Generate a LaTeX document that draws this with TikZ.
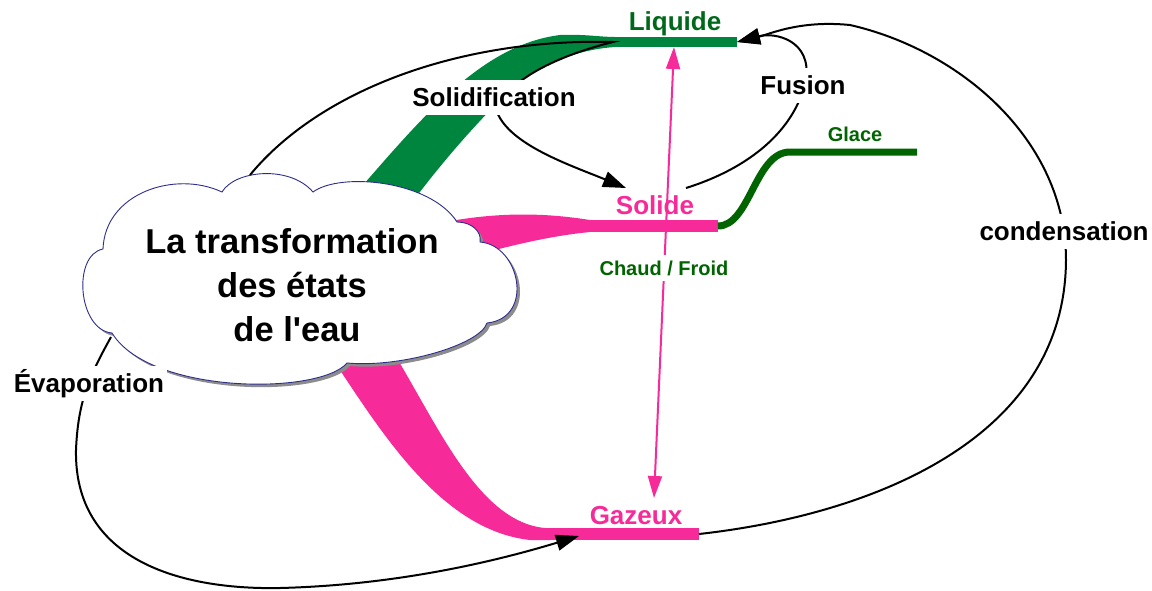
\documentclass[tikz,border=0pt]{standalone}
\usepackage{fontspec}
\setmainfont{Liberation Sans}
\newfontfamily\plainsans{Liberation Sans}
\usetikzlibrary{arrows.meta}
\definecolor{pinkc}{RGB}{246,42,152}
\definecolor{bandgreen}{RGB}{0,133,62}
\definecolor{darkg}{RGB}{0,100,0}
\definecolor{txtgreen}{RGB}{0,105,25}
\definecolor{cloudline}{RGB}{45,45,140}
\def\cloudpath{(103,249) .. controls (105,193) and (175,170) .. (222,192) .. controls (235,170) and (290,165) .. (313,192) .. controls (340,172) and (430,180) .. (457,222) .. controls (472,222) and (482,232) .. (480,242) .. controls (520,245) and (535,318) .. (487,323) .. controls (480,345) and (400,368) .. (347,363) .. controls (320,395) and (150,395) .. (112,333) .. controls (78,330) and (72,255) .. (103,249) -- cycle}
\begin{document}
\begin{tikzpicture}[x=1pt,y=-1pt,
  conn/.style={line width=2pt, black, -{Triangle[length=23pt,width=16pt]}},
  lbl/.style={font=\fontsize{26}{30}\selectfont\bfseries, fill=white, inner xsep=3pt, inner ysep=8pt, text height=19pt, text depth=0pt},
  statetxt/.style={font=\fontsize{26}{30}\selectfont\bfseries, inner sep=0pt, text height=19pt, text depth=0pt},
  smalltxt/.style={font=\fontsize{20}{24}\selectfont\bfseries, text=darkg, inner xsep=3pt, inner ysep=6pt, text height=14.5pt, text depth=0pt},
  bar/.style={line width=#1, line cap=butt}
]
\useasboundingbox (0,0) rectangle (1152,590);
% anchor points
\coordinate (liqL) at (613,42);
\coordinate (liqR) at (737,42);
\coordinate (solL) at (585,226);
\coordinate (solR) at (718,226);
\coordinate (gazL) at (545,534);
\coordinate (gazR) at (699,534);
\coordinate (glaK) at (790,152);
\coordinate (glaR) at (917,152);
\coordinate (cloudTop) at (250,175);
\coordinate (cloudBL) at (111,337);
\coordinate (solTip) at (626,188);
\coordinate (fusStart) at (686,188);
\coordinate (evTip) at (579,536);
\coordinate (pinkTop) at (674,47);
\coordinate (pinkBot) at (654,498);

% green band to Liquide
\fill[bandgreen] (350,200) .. controls (420,120) and (480,45) .. (560,35) .. controls (585,34) and (600,37) .. (615,37) -- (615,47) .. controls (570,50) and (530,70) .. (505,95) .. controls (470,130) and (440,165) .. (410,205) -- cycle;
\draw[bar=10pt, bandgreen] (liqL) -- (liqR);

% pink band to Solide
\fill[pinkc] (430,225) .. controls (490,212) and (540,212) .. (590,220) -- (590,232) .. controls (550,236) and (510,245) .. (440,265) -- cycle;
\draw[bar=12pt, pinkc] (solL) -- (solR);
% Glace line
\draw[line width=7pt, darkg] (solR) .. controls (750,226) and (755,152) .. (glaK) -- (glaR);

% pink band to Gazeux
\fill[pinkc] (330,355) .. controls (380,430) and (440,530) .. (530,540) -- (550,540) -- (550,528) -- (545,528) .. controls (480,522) and (440,430) .. (395,355) -- cycle;
\draw[bar=12pt, pinkc] (gazL) -- (gazR);

% cloud
\fill[black!45, shift={(3,3)}] \cloudpath;
\draw[cloudline, line width=0.9pt, fill=white] \cloudpath;
\node[font=\plainsans\fontsize{34.5}{44}\selectfont\bfseries, align=center] (cloud) at (292,285) {La transformation\\des états\\\hspace{10pt}de l'eau};

% state labels
\node[statetxt, text=txtgreen] (liquide) at (675,21) {Liquide};
\node[statetxt, text=pinkc] (solide) at (655,205) {Solide};
\node[statetxt, text=pinkc] (gazeux) at (636,515) {Gazeux};
\node[smalltxt] (glace) at (855,134) {Glace};

% connectors
\draw[conn] (cloudTop) .. controls (320,90) and (460,38) .. (liqL) .. controls (560,55) and (505,80) .. (497,112) .. controls (510,145) and (570,165) .. (solTip);
\draw[conn] (fusStart) .. controls (750,168) and (795,130) .. (806,80) .. controls (812,40) and (775,32) .. (liqR);
\draw[conn] (gazR) .. controls (870,515) and (1065,440) .. (1066,260) .. controls (1066,140) and (960,50) .. (850,25) .. controls (800,20) and (770,34) .. (liqR);
\draw[conn] (cloudBL) .. controls (90,375) and (78,400) .. (76,450) .. controls (74,560) and (180,590) .. (280,588) .. controls (400,585) and (500,560) .. (evTip);

% Chaud / Froid double arrow
\draw[pinkc, line width=2pt, {Triangle[length=22pt,width=14pt]}-{Triangle[length=22pt,width=14pt]}] (pinkTop) -- (pinkBot);

% process labels
\node[lbl] (solidification) at (494,97) {Solidification};
\node[lbl] (fusion) at (803,85) {Fusion};
\node[lbl] (condensation) at (1064,231) {condensation};
\node[lbl] (evaporation) at (89,383) {Évaporation};
\node[smalltxt, fill=white] (chaud) at (664,268) {Chaud / Froid};
\end{tikzpicture}
\end{document}
